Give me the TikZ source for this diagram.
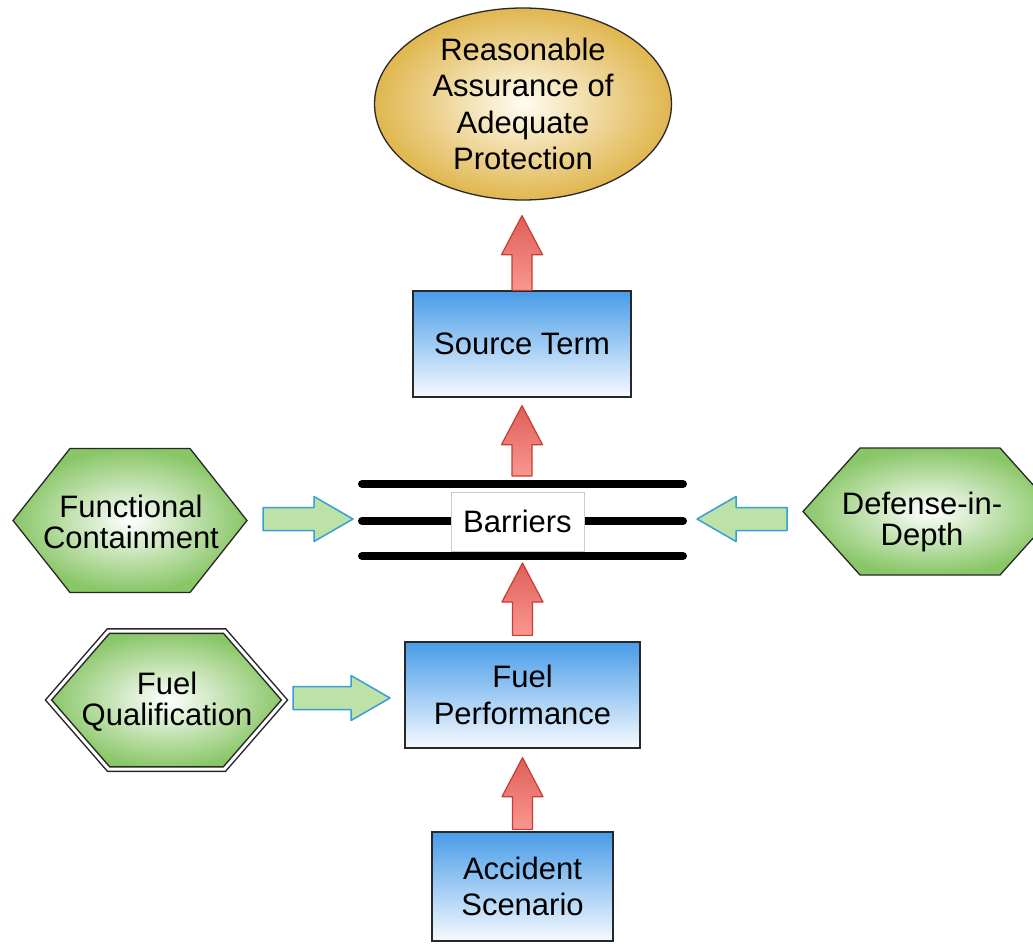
\documentclass[tikz,border=0pt]{standalone}
\usepackage{fontspec}
\setmainfont{Liberation Sans}
\usetikzlibrary{shapes.geometric,calc}

\definecolor{goldout}{RGB}{224,182,78}
\definecolor{goldin}{RGB}{255,252,242}
\definecolor{blueTop}{RGB}{72,156,232}
\definecolor{blueBot}{RGB}{246,250,255}
\definecolor{hexgreen}{RGB}{136,198,102}
\definecolor{redTop}{RGB}{222,96,88}
\definecolor{redBot}{RGB}{250,150,145}
\definecolor{redEdge}{RGB}{200,60,50}
\definecolor{grnFill}{RGB}{188,226,168}
\definecolor{grnEdge}{RGB}{56,158,214}
\definecolor{edge}{RGB}{40,40,40}

\tikzset{
  txt/.style={font=\fontsize{31}{36.5}\selectfont, align=center, text=black},
  bluebox/.style={txt, rectangle, draw=edge, line width=1.3pt, top color=blueTop, bottom color=blueBot, inner sep=0pt},
  goal/.style={txt, ellipse, draw=edge, line width=1.3pt, inner color=goldin, outer color=goldout, inner sep=0pt},
  hextxt/.style={txt, font=\fontsize{31}{31}\selectfont, inner sep=0pt},
  hexfill/.style={inner color=white, outer color=hexgreen, draw=edge, line width=1.3pt, line join=miter},
  redarrow/.style={top color=redTop, bottom color=redBot, draw=redEdge, line width=1.2pt, line join=round},
  grnarrow/.style={fill=grnFill, draw=grnEdge, line width=1.5pt, line join=round},
  barrier/.style={line width=8pt, line cap=round},
  barrbox/.style={txt, rectangle, fill=white, draw=black!20, line width=0.8pt, inner sep=0pt},
}

% hexagon: #1 style, (#2,#3) centre, #4 half width, #5 half top edge, #6 half height
\newcommand\hexshape[6]{%
  \draw[#1] (#2-#4,#3) -- (#2-#5,#3+#6) -- (#2+#5,#3+#6) -- (#2+#4,#3)
    -- (#2+#5,#3-#6) -- (#2-#5,#3-#6) -- cycle;}
% red block arrow pointing up from #1 (base) to #2 (tip)
\newcommand\blkup[2]{%
  \draw[redarrow] let \p1=(#1), \p2=(#2) in
    (\x1-10pt,\y1) -- (\x1-10pt,\y2-39pt) -- (\x1-20.5pt,\y2-39pt) -- (\x1,\y2)
    -- (\x1+20.5pt,\y2-39pt) -- (\x1+10pt,\y2-39pt) -- (\x1+10pt,\y1) -- cycle;}
% green block arrows, from #1 (tail) to #2 (tip)
\newcommand\blkright[2]{%
  \draw[grnarrow] let \p1=(#1), \p2=(#2) in
    (\x1,\y1-11.5pt) -- (\x2-39pt,\y1-11.5pt) -- (\x2-39pt,\y1-22.5pt) -- (\x2,\y1)
    -- (\x2-39pt,\y1+22.5pt) -- (\x2-39pt,\y1+11.5pt) -- (\x1,\y1+11.5pt) -- cycle;}
\newcommand\blkleft[2]{%
  \draw[grnarrow] let \p1=(#1), \p2=(#2) in
    (\x1,\y1-11.5pt) -- (\x2+39pt,\y1-11.5pt) -- (\x2+39pt,\y1-22.5pt) -- (\x2,\y1)
    -- (\x2+39pt,\y1+22.5pt) -- (\x2+39pt,\y1+11.5pt) -- (\x1,\y1+11.5pt) -- cycle;}

\begin{document}
\begin{tikzpicture}[x=1pt,y=1pt]
\useasboundingbox (0,0) rectangle (1033,-944);
\clip (0,0) rectangle (1033,-944);

% goal ellipse
\node[goal, minimum width=297, minimum height=192] (rap) at (523,-104)
  {Reasonable\\Assurance of\\Adequate\\Protection};

% blue boxes
\node[bluebox, minimum width=218, minimum height=106] (st) at (522,-344) {Source Term};
\node[bluebox, minimum width=235, minimum height=106] (fp) at (522.5,-695) {Fuel\\Performance};
\node[bluebox, minimum width=181, minimum height=109] (ac) at (522.5,-886.5) {Accident\\Scenario};

% barriers
\coordinate (b1l) at (362,-484); \coordinate (b1r) at (683,-484);
\coordinate (b2l) at (362,-521); \coordinate (b2r) at (683,-521);
\coordinate (b3l) at (362,-556); \coordinate (b3r) at (683,-556);
\draw[barrier] (b1l) -- (b1r);
\draw[barrier] (b2l) -- (b2r);
\draw[barrier] (b3l) -- (b3r);
\node[barrbox, minimum width=133, minimum height=59] (barr) at (517.5,-521.5) {Barriers};
\coordinate (barTop) at (522,-484);
\coordinate (barBot) at (522,-556);

% hexagons
\hexshape{hexfill}{130}{-520.5}{117}{60}{72}
\node[hextxt] (fc) at (131,-522) {Functional\\Containment};

\hexshape{hexfill}{930}{-511.5}{127}{70}{63.5}
\node[hextxt] (did) at (922,-522) {Defense-in-\\Depth};

\hexshape{hexfill, double=white, double distance=3pt, line width=1.5pt}{166.5}{-700}{118}{58}{69}
\node[hextxt] (fq) at (167,-702) {Fuel\\Qualification};

% red arrows
\blkup{st.north}{$(rap.south)+(0,-15)$}
\blkup{$(barTop)+(0,8)$}{$(st.south)+(0,-8)$}
\blkup{$(fp.north)+(0,6)$}{$(barBot)+(0,-7)$}
\blkup{$(ac.north)+(0,2)$}{$(fp.south)+(0,-9)$}

% green arrows
\coordinate (gA1) at (263,-519); \coordinate (gA2) at (353,-519);
\coordinate (gB1) at (787,-519); \coordinate (gB2) at (697,-519);
\coordinate (gC1) at (293,-698); \coordinate (gC2) at (390,-698);
\blkright{gA1}{gA2}
\blkleft{gB1}{gB2}
\blkright{gC1}{gC2}
\end{tikzpicture}
\end{document}
